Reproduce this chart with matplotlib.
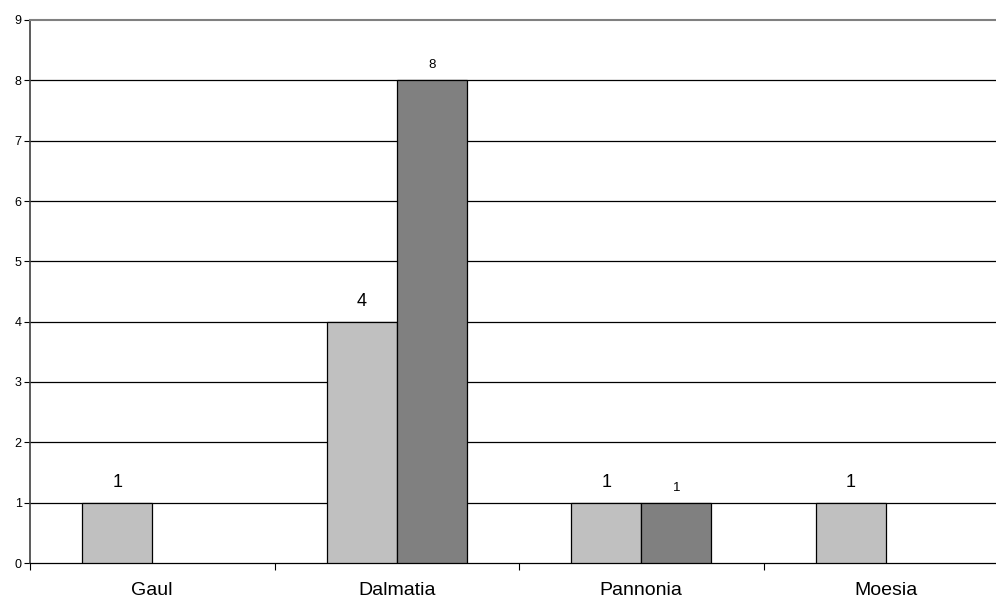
import matplotlib
matplotlib.use("Agg")
import matplotlib.pyplot as plt
import numpy as np

plt.rcParams['font.family'] = ['Liberation Sans', 'DejaVu Sans']

categories = ["Gaul", "Dalmatia", "Pannonia", "Moesia"]
series_a = [1, 4, 1, 1]
series_b = [0, 8, 1, 0]
yticks = list(range(0, 10))

fig = plt.figure(figsize=(9.96, 6.0), dpi=100)
ax = fig.add_axes([30/996, 37/600, 978/996, 543/600])

x = np.arange(len(categories))
w = 0.286
ax.bar(x - w/2, series_a, w, color="#C0C0C0", edgecolor="black", linewidth=0.9, zorder=3)
bb_vals = [v if v > 0 else np.nan for v in series_b]
ax.bar(x + w/2, bb_vals, w, color="#808080", edgecolor="black", linewidth=0.9, zorder=3)

for xi, v in zip(x, series_a):
    if v > 0:
        ax.text(xi - w/2, v + 0.2, str(v), ha="center", va="bottom", fontsize=13)
for xi, v in zip(x, series_b):
    if v > 0:
        ax.text(xi + w/2, v + 0.15, str(v), ha="center", va="bottom", fontsize=9.5)

ax.set_xlim(-0.5, len(categories) - 0.5)
ax.set_ylim(0, 9)
ax.set_yticks(yticks)
ax.set_yticklabels([str(t) for t in yticks], fontsize=9)
for t in yticks[1:-1]:
    ax.axhline(t, color="black", linewidth=0.9, zorder=1)

ax.set_xticks(x)
ax.set_xticklabels(categories, fontsize=14)
ax.tick_params(axis="x", which="major", length=0, pad=14)
ax.set_xticks(np.arange(len(categories) + 1) - 0.5, minor=True)
ax.tick_params(axis="x", which="minor", length=5, width=0.8, direction="out")
ax.tick_params(axis="y", length=4, width=0.8, pad=2)

ax.spines["right"].set_visible(False)
ax.spines["top"].set_color("#808080")
ax.spines["top"].set_linewidth(1.5)
ax.spines["left"].set_color("#404040")
ax.spines["left"].set_linewidth(1.2)
ax.spines["bottom"].set_color("black")
ax.spines["bottom"].set_linewidth(0.9)

fig.savefig("out.png", dpi=100)
